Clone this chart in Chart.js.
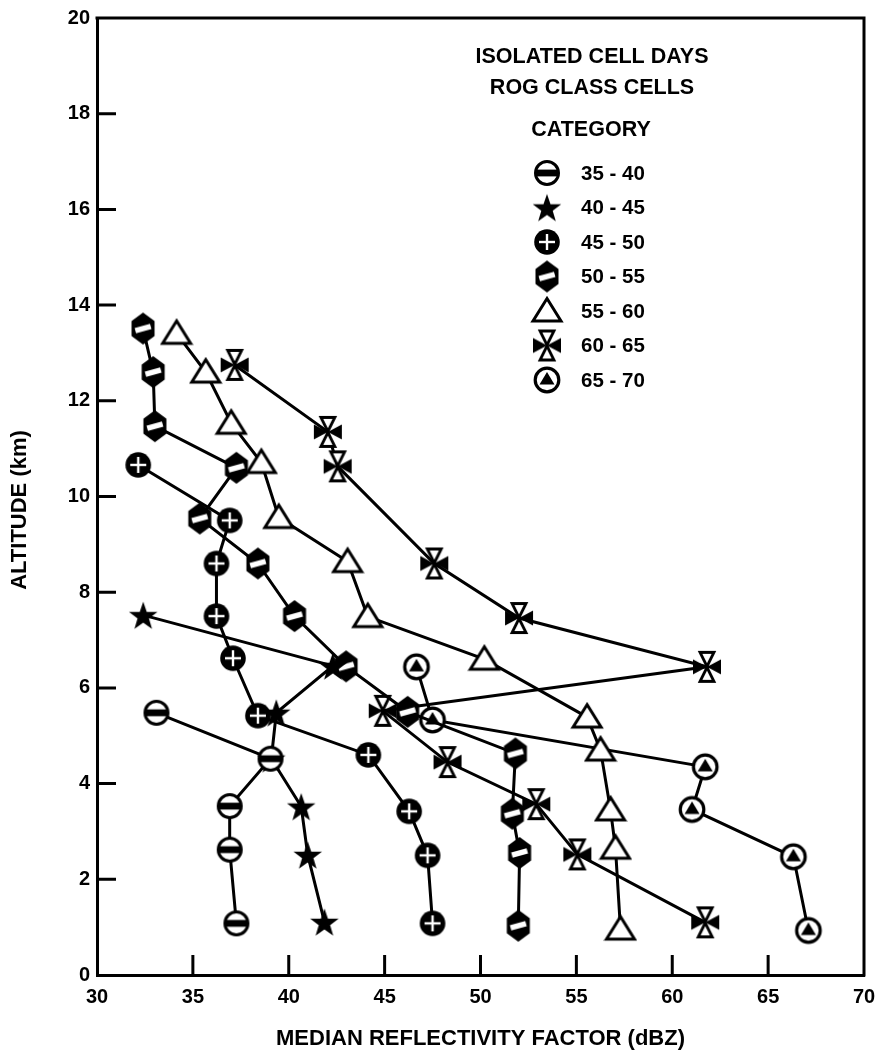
<!DOCTYPE html>
<html><head><meta charset="utf-8">
<script src="https://cdn.jsdelivr.net/npm/chart.js@4.4.1/dist/chart.umd.min.js"></script>
<style>html,body{margin:0;padding:0;background:#fff;overflow:hidden}</style>
</head><body>
<canvas id="c" width="879" height="1058"></canvas>
<script>
// ---- data ----
const legendTitle = ['ISOLATED CELL DAYS', 'ROG CLASS CELLS', 'CATEGORY'];
const categories = ['35 - 40', '40 - 45', '45 - 50', '50 - 55', '55 - 60', '60 - 65', '65 - 70'];

const dbz_35_40 = [33.1, 39.05, 36.92, 36.92, 37.27];
const alt_35_40 = [5.48, 4.52, 3.53, 2.62, 1.08];

const dbz_40_45 = [32.41, 42.3, 39.35, 39.09, 40.65, 40.99, 41.86];
const alt_40_45 = [7.52, 6.46, 5.48, 4.52, 3.52, 2.51, 1.11];

const dbz_45_50 = [32.15, 36.92, 36.23, 36.23, 37.09, 38.39, 44.15, 46.28, 47.24, 47.5];
const alt_45_50 = [10.66, 9.5, 8.6, 7.5, 6.62, 5.42, 4.6, 3.42, 2.5, 1.08];

const dbz_50_55 = [32.4, 32.93, 33.02, 37.27, 35.36, 38.39, 40.3, 42.99, 46.2, 51.82, 51.66, 52.04, 51.97];
const alt_50_55 = [13.51, 12.6, 11.47, 10.6, 9.54, 8.6, 7.5, 6.45, 5.5, 4.63, 3.37, 2.55, 1.03];

const dbz_55_60 = [34.15, 35.67, 37.0, 38.57, 39.48, 43.07, 44.12, 50.2, 55.56, 56.26, 56.78, 57.04, 57.3];
const alt_55_60 = [13.41, 12.6, 11.53, 10.71, 9.56, 8.64, 7.49, 6.6, 5.39, 4.7, 3.45, 2.65, 0.96];

const dbz_60_65 = [37.18, 42.04, 42.55, 47.59, 52.01, 61.81, 44.9, 48.28, 52.91, 55.05, 61.72];
const alt_60_65 = [12.75, 11.35, 10.63, 8.6, 7.46, 6.44, 5.52, 4.45, 3.57, 2.52, 1.1];

const dbz_65_70 = [46.66, 47.5, 61.72, 61.03, 66.32, 67.1];
const alt_65_70 = [6.44, 5.33, 4.35, 3.46, 2.47, 0.93];

const xTickValues = [30, 35, 40, 45, 50, 55, 60, 65, 70];
const yTickValues = [0, 2, 4, 6, 8, 10, 12, 14, 16, 18, 20];
const xTitle = 'MEDIAN REFLECTIVITY FACTOR (dBZ)';
const yTitle = 'ALTITUDE (km)';

// ---- marker images ----
function mk(w, h, draw) {
  const c = document.createElement('canvas');
  c.width = w; c.height = h;
  const g = c.getContext('2d');
  g.translate(w / 2, h / 2);
  g.lineJoin = 'miter';
  draw(g);
  return c;
}
const K = '#000';
const markers = [
  // 35-40: open circle with black bar
  mk(30, 30, g => {
    g.beginPath(); g.arc(0, 0, 11.5, 0, Math.PI * 2);
    g.fillStyle = '#fff'; g.fill();
    g.lineWidth = 3; g.strokeStyle = K; g.stroke();
    g.fillStyle = K; g.fillRect(-11, -3.4, 22, 6.8);
  }),
  // 40-45: filled star
  mk(34, 34, g => {
    g.beginPath();
    for (let i = 0; i < 10; i++) {
      const r = i % 2 === 0 ? 15 : 6;
      const a = -Math.PI / 2 + i * Math.PI / 5;
      const px = r * Math.cos(a), py = r * Math.sin(a) + 1.5;
      i === 0 ? g.moveTo(px, py) : g.lineTo(px, py);
    }
    g.closePath(); g.fillStyle = K; g.fill();
  }),
  // 45-50: black circle with white plus
  mk(30, 30, g => {
    g.beginPath(); g.arc(0, 0, 12.8, 0, Math.PI * 2);
    g.fillStyle = K; g.fill();
    g.fillStyle = '#fff';
    g.fillRect(-8, -1.2, 16, 2.4);
    g.fillRect(-1.2, -8, 2.4, 16);
  }),
  // 50-55: black hexagon with white slanted dash
  mk(30, 36, g => {
    g.beginPath();
    g.moveTo(0, -16); g.lineTo(11.5, -7.5); g.lineTo(11.5, 7.5); g.lineTo(0, 16);
    g.lineTo(-11.5, 7.5); g.lineTo(-11.5, -7.5); g.closePath();
    g.fillStyle = K; g.fill();
    g.save(); g.rotate(-0.28);
    g.fillStyle = '#fff'; g.fillRect(-8, -2.7, 16, 5.4);
    g.restore();
  }),
  // 55-60: open triangle
  mk(34, 32, g => {
    g.beginPath();
    g.moveTo(0, -12.5); g.lineTo(14, 10); g.lineTo(-14, 10); g.closePath();
    g.fillStyle = '#fff'; g.fill();
    g.lineWidth = 3; g.strokeStyle = K; g.stroke();
  }),
  // 60-65: cross of four triangles
  mk(34, 36, g => {
    g.fillStyle = K;
    g.beginPath();
    g.moveTo(-14, -7.5); g.lineTo(0, 0); g.lineTo(-14, 7.5); g.closePath();
    g.moveTo(14, -7.5); g.lineTo(0, 0); g.lineTo(14, 7.5); g.closePath();
    g.fill();
    g.beginPath();
    g.moveTo(-7, -14.5); g.lineTo(7, -14.5); g.lineTo(0, -0.5); g.closePath();
    g.moveTo(-7, 14.5); g.lineTo(7, 14.5); g.lineTo(0, 0.5); g.closePath();
    g.fillStyle = '#fff'; g.fill();
    g.lineWidth = 2.8; g.strokeStyle = K; g.stroke();
  }),
  // 65-70: open circle with black triangle
  mk(30, 30, g => {
    g.beginPath(); g.arc(0, 0, 11.8, 0, Math.PI * 2);
    g.fillStyle = '#fff'; g.fill();
    g.lineWidth = 3.2; g.strokeStyle = K; g.stroke();
    g.beginPath(); g.moveTo(0, -8); g.lineTo(7.5, 4.5); g.lineTo(-7.5, 4.5); g.closePath();
    g.fillStyle = K; g.fill();
  })
];

const seriesX = [dbz_35_40, dbz_40_45, dbz_45_50, dbz_50_55, dbz_55_60, dbz_60_65, dbz_65_70];
const seriesY = [alt_35_40, alt_40_45, alt_45_50, alt_50_55, alt_55_60, alt_60_65, alt_65_70];

const datasets = categories.map((name, i) => ({
  label: name,
  data: seriesX[i].map((x, j) => ({ x: x, y: seriesY[i][j] })),
  showLine: true,
  borderColor: '#000',
  borderWidth: 3,
  pointStyle: markers[i],
  pointRadius: 12,
  pointHoverRadius: 12,
  tension: 0,
  fill: false
}));

const FONT = '"Liberation Sans", Arial, Helvetica, sans-serif';

const decor = {
  id: 'decor',
  beforeDraw(chart) {
    const ctx = chart.ctx;
    ctx.save(); ctx.fillStyle = '#fff'; ctx.fillRect(0, 0, chart.width, chart.height); ctx.restore();
  },
  beforeDatasetsDraw(chart) {
    const { ctx, chartArea: a, scales: { x, y } } = chart;
    ctx.save();
    ctx.strokeStyle = '#000';
    ctx.lineWidth = 3;
    ctx.lineCap = 'butt';
    // frame top & right
    ctx.beginPath();
    ctx.moveTo(a.left - 1.5, a.top); ctx.lineTo(a.right, a.top); ctx.lineTo(a.right, a.bottom + 1.5);
    ctx.stroke();
    // inward ticks
    ctx.beginPath();
    xTickValues.slice(1, -1).forEach(v => {
      const px = x.getPixelForValue(v);
      ctx.moveTo(px, a.bottom); ctx.lineTo(px, a.bottom - 20);
    });
    yTickValues.slice(1, -1).forEach(v => {
      const py = y.getPixelForValue(v);
      ctx.moveTo(a.left, py); ctx.lineTo(a.left + 19, py);
    });
    ctx.stroke();
    ctx.restore();
  },
  afterDraw(chart) {
    const ctx = chart.ctx;
    ctx.save();
    ctx.fillStyle = '#000';
    ctx.font = 'bold 21.5px ' + FONT;
    ctx.textAlign = 'center';
    ctx.textBaseline = 'middle';
    ctx.fillText(legendTitle[0], 592, 57);
    ctx.fillText(legendTitle[1], 592, 88);
    ctx.fillText(legendTitle[2], 591, 130);
    ctx.textAlign = 'left';
    ctx.font = 'bold 20.5px ' + FONT;
    categories.forEach((name, i) => {
      const yy = 173 + i * 34.5;
      const m = markers[i];
      ctx.drawImage(m, 547 - m.width / 2, yy - m.height / 2);
      ctx.fillText(name, 581, yy + 1);
    });
    // y axis title
    ctx.save();
    ctx.translate(20, 510);
    ctx.rotate(-Math.PI / 2);
    ctx.textAlign = 'center';
    ctx.font = 'bold 22px ' + FONT;
    ctx.fillText(yTitle, 0, 0);
    ctx.restore();
    ctx.restore();
  }
};

new Chart(document.getElementById('c'), {
  type: 'scatter',
  data: { datasets },
  options: {
    responsive: false,
    animation: false,
    events: [],
    layout: { padding: { top: 18, right: 13, left: 3, bottom: 5 } },
    plugins: { legend: { display: false }, tooltip: { enabled: false } },
    scales: {
      x: {
        type: 'linear', min: 30, max: 70,
        afterBuildTicks: s => { s.ticks = xTickValues.map(v => ({ value: v })); },
        afterFit: s => { s.height = 1058 - 5 - 975; s.paddingLeft = 0; s.paddingRight = 0; },
        grid: { display: false, drawTicks: false, tickLength: 0 },
        border: { display: true, color: '#000', width: 3 },
        ticks: { color: '#000', font: { family: FONT, size: 20, weight: 'bold' }, padding: 10, maxRotation: 0, autoSkip: false },
        title: { display: true, text: xTitle, color: '#000', font: { family: FONT, size: 22, weight: 'bold' }, padding: { top: 0, bottom: 1 } }
      },
      y: {
        type: 'linear', min: 0, max: 20,
        afterBuildTicks: s => { s.ticks = yTickValues.map(v => ({ value: v })); },
        afterFit: s => { s.width = 97 - 3; s.paddingTop = 0; s.paddingBottom = 0; },
        grid: { display: false, drawTicks: false, tickLength: 0 },
        border: { display: true, color: '#000', width: 3 },
        ticks: { color: '#000', font: { family: FONT, size: 20, weight: 'bold' }, padding: 7, autoSkip: false },
        title: { display: false }
      }
    }
  },
  plugins: [decor]
});
</script>
</body></html>
